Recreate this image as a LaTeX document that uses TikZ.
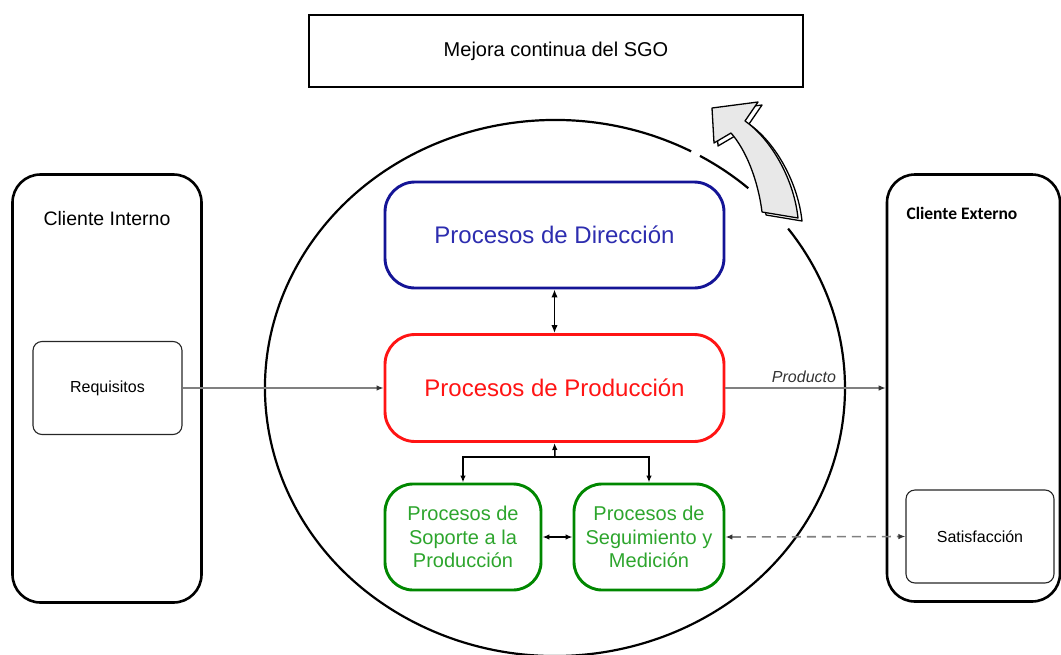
\documentclass[tikz,border=0pt]{standalone}
\usepackage{fontspec}
\setmainfont{Liberation Sans}
\newfontfamily\calibrifont{Carlito}
\usetikzlibrary{arrows.meta}
\definecolor{dirblue}{RGB}{20,20,150}
\definecolor{dirtext}{RGB}{45,45,175}
\definecolor{prodred}{RGB}{255,20,20}
\definecolor{suppgreen}{RGB}{0,135,0}
\definecolor{supptext}{RGB}{45,165,45}
\definecolor{arrowgray}{RGB}{232,232,232}
\tikzset{
  bigtip/.tip={Latex[length=8pt,width=6.5pt]},
  smltip/.tip={Latex[length=7pt,width=5.5pt]},
  graytip/.tip={Latex[length=7pt,width=5.5pt,color=black!80]},
  clientbox/.style={draw, line width=2.6pt, rounded corners=28pt, inner sep=0pt},
  smallbox/.style={draw=black!85, line width=1.1pt, rounded corners=9pt, inner sep=0pt, font=\fontsize{16}{19}\selectfont},
  procbox/.style={line width=2.9pt, rounded corners=30pt, inner sep=0pt, align=center},
  bigtext/.style={font=\fontsize{24}{28}\selectfont},
  greentext/.style={font=\fontsize{20}{23.5}\selectfont, text=supptext},
  blackline/.style={line width=1.5pt},
  grayline/.style={draw=black!50, line width=1.2pt, -{graytip}},
}
\begin{document}
\begin{tikzpicture}[x=1pt,y=-1pt]
\useasboundingbox (0,0) rectangle (1061,654);
% top box
\node[draw, line width=2.5pt, minimum width=494pt, minimum height=72pt, inner sep=0pt,
      font=\fontsize{20}{24}\selectfont] (mejora) at (556,51) {Mejora continua del SGO};
% big circle (ellipse) with gaps near the arrow
\draw[line width=2.2pt] (555,388) ++(-62:290 and 268) arc[start angle=-62, end angle=-396.5, x radius=290, y radius=268];
\draw[line width=2.2pt] (555,388) ++(-48.2:290 and 268) arc[start angle=-48.2, end angle=-60, x radius=290, y radius=268];
% curved block arrow (shadow then main)
\begin{scope}[shift={(4,3)}]
\draw[line width=1.3pt, fill=white, line join=round]
  (712,108) -- (714,143) -- (731,133) .. controls (746,150) and (758,180) .. (762,212)
  -- (798,218) .. controls (794,180) and (772,140) .. (745,121) -- (758,102) -- cycle;
\end{scope}
\draw[line width=1.3pt, fill=arrowgray, line join=round]
  (712,108) -- (714,143) -- (731,133) .. controls (746,150) and (758,180) .. (762,212)
  -- (798,218) .. controls (794,180) and (772,140) .. (745,121) -- (758,102) -- cycle;
% clients
\node[clientbox, minimum width=189pt, minimum height=428pt] (cint) at (107,388.5) {};
\node[font=\fontsize{19.5}{23}\selectfont] (cinttitle) at (107,219) {Cliente Interno};
\node[smallbox, minimum width=149pt, minimum height=93pt] (req) at (107.5,388) {Requisitos};
\node[clientbox, minimum width=173pt, minimum height=427pt] (cext) at (973.5,388) {};
\node[anchor=west, font=\calibrifont\bfseries\fontsize{17.5}{21}\selectfont] (cexttitle) at (903,213) {Cliente Externo};
\node[smallbox, minimum width=148pt, minimum height=93pt] (sat) at (980,536.5) {Satisfacción};
% process boxes
\node[procbox, draw=dirblue, minimum width=339pt, minimum height=106pt, bigtext, text=dirtext] (dir) at (554.5,235) {Procesos de Dirección};
\node[procbox, draw=prodred, minimum width=339pt, minimum height=107pt, bigtext, text=prodred] (prod) at (554.5,388) {Procesos de Producción};
\node[procbox, draw=suppgreen, rounded corners=28pt, minimum width=156pt, minimum height=106pt, greentext] (sop) at (463,537) {Procesos de\\Soporte a la\\Producción};
\node[procbox, draw=suppgreen, rounded corners=28pt, minimum width=150pt, minimum height=106pt, greentext] (seg) at (649,537) {Procesos de\\Seguimiento y\\Medición};
% connectors
\draw[blackline, line width=1.8pt, {bigtip}-{bigtip}] (dir.south) -- (prod.north);
\coordinate (junc) at (555,457);
\draw[blackline, -{smltip}] (junc) -- (prod.south);
\draw[blackline, -{smltip}] (junc) -| (sop.north);
\draw[blackline, -{smltip}] (junc) -| (seg.north);
\draw[blackline, line width=1.8pt, {smltip}-{smltip}] (sop.east) -- (seg.west);
\draw[grayline] (req.east) -- (prod.west);
\draw[grayline] (prod.east) -- node[pos=0.49, above=1pt, font=\itshape\fontsize{16}{19}\selectfont, text=black!80] (prodlabel) {Producto} (cext.west);
\draw[draw=black!50, line width=1.6pt, dash pattern=on 9pt off 6pt, {graytip}-{graytip}] (seg.east) -- (sat.west);
\end{tikzpicture}
\end{document}
